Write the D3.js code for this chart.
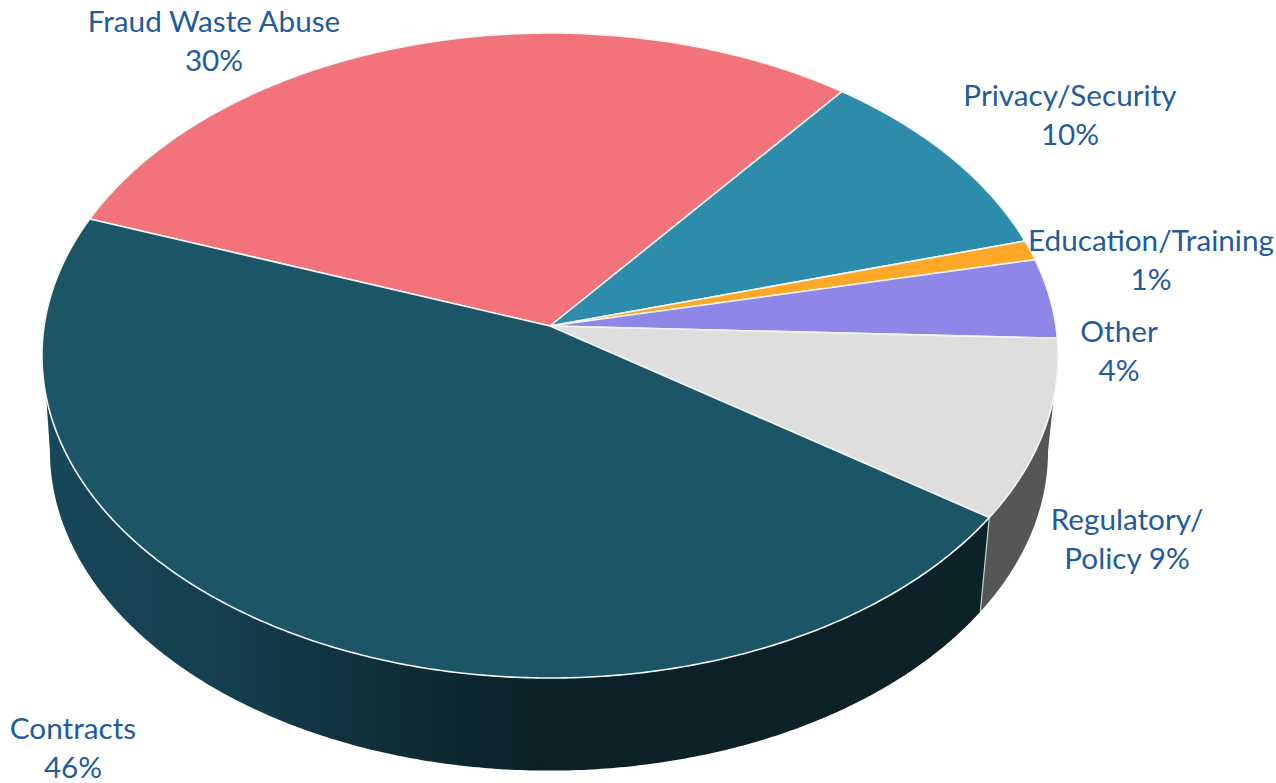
<!DOCTYPE html>
<html>
<head>
<meta charset="utf-8">
<script src="https://cdn.jsdelivr.net/npm/d3@7/dist/d3.min.js"></script>
<style>
  html, body { margin: 0; padding: 0; background: #fff; overflow: hidden; }
  svg { display: block; }
  text { font-family: Lato, "Open Sans", sans-serif; font-size: 29.7px; fill: #1f5ba0; text-anchor: middle; }
</style>
</head>
<body>
<svg id="chart" width="1276" height="783"></svg>
<script>
// Complaint share by category, clockwise from the Fraud Waste Abuse slice.
const categories = ["Fraud Waste Abuse", "Privacy/Security", "Education/Training", "Other", "Regulatory/Policy", "Contracts"];
const shares = [30, 10, 1, 4, 9, 46];
const nameLines = [["Fraud Waste Abuse"], ["Privacy/Security"], ["Education/Training"], ["Other"], ["Regulatory/", "Policy"], ["Contracts"]];
const sliceColors = ["#f2747a", "#2e8cab", "#ffa726", "#8f87e8", "#dedede", "#1c5566"];
const wallColors = { "Regulatory/Policy": "#555755", "Contracts": "url(#contractsWall)" };

// Label centres: x, and the baseline of the first line.
const labelAnchors = [[214, 32], [1070, 106], [1151, 251], [1119, 342], [1127, 530], [73, 739]];
const labelLeading = 38.6;

const deg = Math.PI / 180;
const firstSliceAngle = 290.2 * deg;

// Perspective disc: sx, sy give the axes of the face, p is the foreshortening.
const face = { cx: 550, cy: 326, sx: 505.9, sy: 319.8, p: 0.0915 };
const base = { cx: 549, cy: 422, sx: 497, sy: 317, p: 0.0907 };

function project(disc, theta) {
  const u = Math.sin(theta), v = -Math.cos(theta), w = 1 - disc.p * v;
  return [disc.cx + disc.sx * u / w, disc.cy + disc.sy * v / w];
}
function rim(disc, a0, a1) {
  const n = Math.max(2, Math.ceil(Math.abs(a1 - a0) / (0.5 * deg)));
  return d3.range(n + 1).map(i => project(disc, a0 + (a1 - a0) * i / n));
}

const pie = d3.pie().sort(null)
  .startAngle(firstSliceAngle)
  .endAngle(firstSliceAngle + 2 * Math.PI);
const arcs = pie(shares);
const line = d3.line();

const svg = d3.select("#chart");

const grad = svg.append("defs").append("linearGradient")
  .attr("id", "contractsWall").attr("gradientUnits", "userSpaceOnUse")
  .attr("x1", 45).attr("x2", 985).attr("y1", 0).attr("y2", 0);
[[0, "#17485a"], [0.2, "#143f4e"], [0.28, "#113543"], [0.38, "#0f2d37"], [0.52, "#0b2127"], [1, "#0b2228"]]
  .forEach(([o, c]) => grad.append("stop").attr("offset", o).attr("stop-color", c));

// Visible part of the side wall, in clockwise angle from the top of the disc.
const wallFaceRange = [102.6 * deg, 257.4 * deg];
const wallBaseRange = [95.2 * deg, 264.8 * deg];
const wrap = a => ((a % (2 * Math.PI)) + 2 * Math.PI) % (2 * Math.PI);

const walls = svg.append("g");
arcs.forEach((d, i) => {
  const color = wallColors[categories[i]];
  if (!color) return;
  const s = wrap(d.startAngle);
  let e = s + (d.endAngle - d.startAngle);
  const f0 = Math.max(s, wallFaceRange[0]), f1 = Math.min(e, wallFaceRange[1]);
  const b0 = Math.max(s, wallBaseRange[0]), b1 = Math.min(e, wallBaseRange[1]);
  walls.append("path")
    .attr("d", line([...rim(face, f0, f1), ...rim(base, b1, b0)]) + "Z")
    .attr("fill", color);
});

// Seam where the two wall colours meet.
const seamAngle = wrap(arcs[categories.indexOf("Contracts")].startAngle);
walls.append("path")
  .attr("d", line([project(face, seamAngle), project(base, seamAngle)]))
  .attr("stroke", "#c9d0d2").attr("stroke-width", 1.2).attr("fill", "none");

svg.append("g").selectAll("path").data(arcs).join("path")
  .attr("d", d => line([[face.cx, face.cy], ...rim(face, d.startAngle, d.endAngle)]) + "Z")
  .attr("fill", (d, i) => sliceColors[i])
  .attr("stroke", "#f4f6f6")
  .attr("stroke-width", 1.6)
  .attr("stroke-linejoin", "round");

const labels = svg.append("g").selectAll("text").data(categories).join("text")
  .attr("x", (d, i) => labelAnchors[i][0])
  .attr("y", (d, i) => labelAnchors[i][1]);
labels.each(function (d, i) {
  const lines = nameLines[i].slice();
  const pct = shares[i] + "%";
  if (lines.length > 1) lines[lines.length - 1] += " " + pct; else lines.push(pct);
  d3.select(this).selectAll("tspan").data(lines).join("tspan")
    .attr("x", labelAnchors[i][0])
    .attr("dy", (l, j) => j ? labelLeading : 0)
    .text(l => l);
});
</script>
</body>
</html>
